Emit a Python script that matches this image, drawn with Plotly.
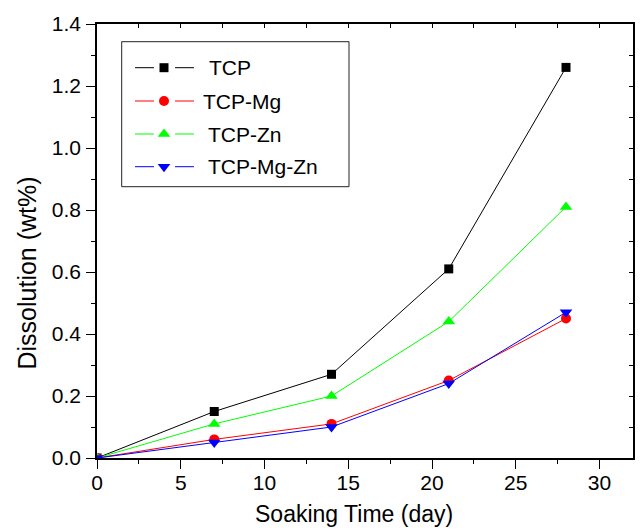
import plotly.graph_objects as go

# Soaking time (days) and dissolution (wt%) for each ceramic
days = [0, 7, 14, 21, 28]
tcp = [0.0, 0.15, 0.27, 0.61, 1.26]
tcp_mg = [0.0, 0.06, 0.11, 0.25, 0.45]
tcp_zn = [0.0, 0.11, 0.20, 0.44, 0.81]
tcp_mg_zn = [0.0, 0.05, 0.10, 0.24, 0.47]

series_names = ["TCP", "TCP-Mg", "TCP-Zn", "TCP-Mg-Zn"]
series_values = [tcp, tcp_mg, tcp_zn, tcp_mg_zn]
series_colors = ["#000000", "#FF0000", "#00FF00", "#0000FF"]
series_symbols = ["square", "circle", "triangle-up", "triangle-down"]
symbol_sizes = [9, 10, 11, 11]

FONT = "Liberation Sans, Arial, Helvetica, sans-serif"
W, H = 640, 530
L, R, T, B = 97, 7, 24, 72
PW, PH = W - L - R, H - T - B


def paper_x(px):
    return (px - L) / PW


def paper_y(py):
    return (H - B - py) / PH


fig = go.Figure()

for name, vals, col, sym, sz in zip(series_names, series_values, series_colors,
                                    series_symbols, symbol_sizes):
    fig.add_trace(go.Scatter(
        x=days, y=vals, name=name, mode="lines+markers",
        line=dict(color=col, width=1),
        marker=dict(symbol=sym, size=sz, color=col, opacity=1, line=dict(width=0)),
        showlegend=False, xaxis="x", yaxis="y"))

# empty trace so the mirrored top/right axes get drawn
fig.add_trace(go.Scatter(x=[None], y=[None], xaxis="x2", yaxis="y2",
                         showlegend=False, hoverinfo="skip"))

# legend drawn in plot-pixel coordinates on a hidden overlay axis
legend_rows = [67.7, 101, 134, 166.7]
legend_text_x = [206.7, 201, 206, 206]
for yy, col, sym, sz in zip(legend_rows, series_colors, series_symbols, symbol_sizes):
    fig.add_trace(go.Scatter(
        x=[164], y=[yy], mode="markers", xaxis="x3", yaxis="y3", opacity=1,
        marker=dict(symbol=sym, size=sz, color=col, opacity=1, line=dict(width=0)),
        showlegend=False, hoverinfo="skip"))

shapes = [dict(type="rect", xref="x3", yref="y3", x0=121.7, x1=349, y0=41.7, y1=186.7,
               line=dict(color="#222222", width=1), fillcolor="rgba(0,0,0,0)",
               layer="below")]
annotations = []
for yy, tx, name, col in zip(legend_rows, legend_text_x, series_names, series_colors):
    for x0, x1 in [(135, 154), (175, 194)]:
        shapes.append(dict(type="line", xref="x3", yref="y3", x0=x0, x1=x1, y0=yy, y1=yy,
                           line=dict(color=col, width=1)))
    annotations.append(dict(xref="x3", yref="y3", x=tx, y=yy, text=name, showarrow=False,
                            xanchor="left", yanchor="middle",
                            font=dict(family=FONT, size=21, color="black")))

# axis titles
annotations.append(dict(xref="paper", yref="paper", x=paper_x(354), y=paper_y(514),
                        text="Soaking Time (day)", showarrow=False,
                        xanchor="center", yanchor="middle",
                        font=dict(family=FONT, size=23, color="black")))
annotations.append(dict(xref="paper", yref="paper", x=paper_x(26.5), y=paper_y(273),
                        text="Dissolution (wt%)", showarrow=False,
                        xanchor="center", yanchor="middle", textangle=-90,
                        font=dict(family=FONT, size=25, color="black")))

tick_font = dict(family=FONT, size=21, color="black")

fig.update_layout(
    width=W, height=H,
    margin=dict(l=L, r=R, t=T, b=B),
    paper_bgcolor="white", plot_bgcolor="white",
    showlegend=False,
    xaxis=dict(range=[0, 32], tickmode="linear", tick0=0, dtick=5,
               ticks="outside", ticklen=9, tickwidth=1.3, tickcolor="black",
               minor=dict(ticks="outside", dtick=2.5, tick0=0, ticklen=4.5,
                          tickwidth=1.3, tickcolor="black"),
               showline=True, linecolor="black", linewidth=1.6,
               showgrid=False, zeroline=False, tickfont=tick_font,
               ticklabelstandoff=-4),
    yaxis=dict(range=[0, 1.4], tickmode="linear", tick0=0, dtick=0.2,
               tickformat=".1f",
               ticks="outside", ticklen=9, tickwidth=1.3, tickcolor="black",
               minor=dict(ticks="outside", dtick=0.1, tick0=0, ticklen=4.5,
                          tickwidth=1.3, tickcolor="black"),
               showline=True, linecolor="black", linewidth=1.6,
               showgrid=False, zeroline=False, tickfont=tick_font,
               ticklabelstandoff=1),
    xaxis2=dict(range=[0, 32], overlaying="x", side="top", anchor="y2",
                tickmode="linear", tick0=0, dtick=5,
                ticks="inside", ticklen=4.5, tickwidth=1.3, tickcolor="black",
                minor=dict(ticks="inside", dtick=2.5, tick0=0, ticklen=4.5,
                           tickwidth=1.3, tickcolor="black"),
                showline=True, linecolor="black", linewidth=1.6,
                showticklabels=False, showgrid=False, zeroline=False),
    yaxis2=dict(range=[0, 1.4], overlaying="y", side="right", anchor="x2",
                tickmode="linear", tick0=0, dtick=0.2,
                ticks="inside", ticklen=4.5, tickwidth=1.3, tickcolor="black",
                minor=dict(ticks="inside", dtick=0.1, tick0=0, ticklen=4.5,
                           tickwidth=1.3, tickcolor="black"),
                showline=True, linecolor="black", linewidth=1.6,
                showticklabels=False, showgrid=False, zeroline=False),
    xaxis3=dict(range=[L, W - R], overlaying="x", anchor="y3",
                visible=False, fixedrange=True),
    yaxis3=dict(range=[H - B, T], overlaying="y", anchor="x3",
                visible=False, fixedrange=True),
    shapes=shapes,
    annotations=annotations,
)

fig.write_html("out.html")
